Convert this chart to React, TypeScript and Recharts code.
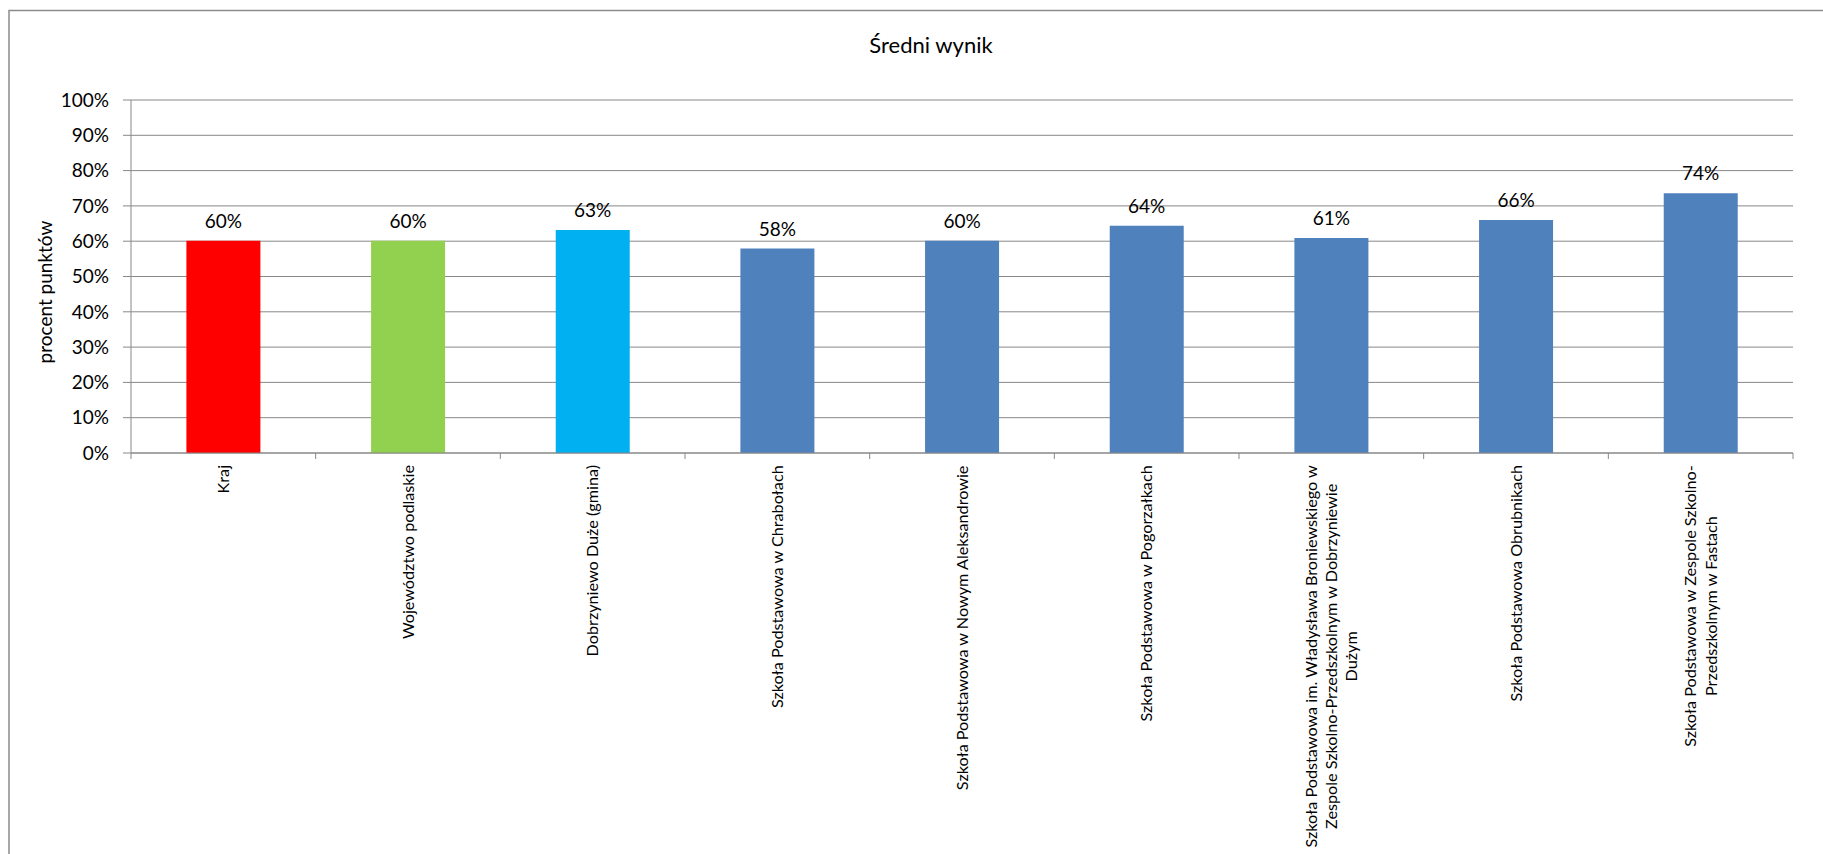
import React from 'react';
import { BarChart, Bar, XAxis, YAxis, CartesianGrid, Cell, LabelList } from 'recharts';

const labelLines: string[][] = [
  ['Kraj'],
  ['Województwo podlaskie'],
  ['Dobrzyniewo Duże (gmina)'],
  ['Szkoła Podstawowa w Chrabołach'],
  ['Szkoła Podstawowa w Nowym Aleksandrowie'],
  ['Szkoła Podstawowa w Pogorzałkach'],
  ['Szkoła Podstawowa im. Władysława Broniewskiego w', 'Zespole Szkolno-Przedszkolnym w Dobrzyniewie', 'Dużym'],
  ['Szkoła Podstawowa Obrubnikach'],
  ['Szkoła Podstawowa w Zespole Szkolno-', 'Przedszkolnym w Fastach'],
];
const categories = labelLines.map((l) => l.join(' '));
const values = [60.1, 60.1, 63.2, 57.9, 60.1, 64.4, 60.9, 66.0, 73.6];
const barColors = ['#FF0000', '#92D050', '#00B0F0', '#4F81BD', '#4F81BD', '#4F81BD', '#4F81BD', '#4F81BD', '#4F81BD'];
const yTicks = [0, 10, 20, 30, 40, 50, 60, 70, 80, 90, 100];
const title = 'Średni wynik';
const yTitle = 'procent punktów';

const data = categories.map((name, i) => ({ name, value: values[i] }));

const W = 1823;
const H = 854;
const FONT = 'Lato, "Open Sans", sans-serif';
const AXIS = '#888888';
const LEFT = 131;
const RIGHT = 30;
const TOP = 100;
const XAXIS_H = 401;
const BAND = (W - LEFT - RIGHT) / categories.length;
const X_FONT = 16.2;
const LINE_H = 20.5;

let ctx: CanvasRenderingContext2D | null = null;
function measure(s: string, font: string) {
  if (!ctx) ctx = document.createElement('canvas').getContext('2d');
  if (!ctx) return s.length * 8;
  ctx.font = font;
  return ctx.measureText(s).width;
}

const XTick = (props: any) => {
  const { x, y, index } = props;
  const lines = labelLines[index] || [];
  const maxLen = Math.max(...lines.map((l) => measure(l, `${X_FONT}px Lato`)));
  const top = y + 12;
  return (
    <g>
      <line x1={x - BAND / 2} x2={x - BAND / 2} y1={y} y2={y + 6} stroke={AXIS} />
      {index === categories.length - 1 && (
        <line x1={x + BAND / 2} x2={x + BAND / 2} y1={y} y2={y + 6} stroke={AXIS} />
      )}
      <g transform={`translate(${x}, ${top}) rotate(-90)`}>
        {lines.map((l, i) => (
          <text
            key={i}
            x={-maxLen / 2}
            y={(i - (lines.length - 1) / 2) * LINE_H}
            dy="0.35em"
            textAnchor="middle"
            fontFamily={FONT}
            fontSize={X_FONT}
            fill="#000"
          >
            {l}
          </text>
        ))}
      </g>
    </g>
  );
};

export default function App() {
  return (
    <div style={{ position: 'absolute', left: 0, top: 0, width: W, height: H, overflow: 'hidden', background: '#fff' }}>
      <BarChart
        width={W}
        height={H}
        data={data}
        margin={{ top: TOP, right: RIGHT, bottom: 0, left: 0 }}
        barCategoryGap="30%"
      >
        <CartesianGrid vertical={false} stroke={AXIS} />
        <XAxis
          dataKey="name"
          height={XAXIS_H}
          interval={0}
          tickLine={false}
          tickSize={0}
          tickMargin={0}
          axisLine={{ stroke: AXIS }}
          tick={<XTick />}
        />
        <YAxis
          width={LEFT}
          domain={[0, 100]}
          ticks={yTicks}
          interval={0}
          tickFormatter={(v: number) => `${v}%`}
          tickSize={8}
          tickMargin={14}
          axisLine={{ stroke: AXIS }}
          tickLine={{ stroke: AXIS }}
          tick={{ fill: '#000', fontSize: 19, fontFamily: FONT }}
        />
        <Bar dataKey="value" isAnimationActive={false}>
          {data.map((_, i) => (
            <Cell key={`c-${i}`} fill={barColors[i]} />
          ))}
          <LabelList
            dataKey="value"
            position="top"
            offset={13}
            formatter={(v: any) => `${Math.round(Number(v))}%`}
            fill="#000"
            style={{ fontFamily: FONT, fontSize: 19, fill: '#000' }}
          />
        </Bar>
      </BarChart>
      <svg width={W} height={H} style={{ position: 'absolute', left: 0, top: 0, pointerEvents: 'none' }}>
        <rect x={9} y={10.5} width={W + 20} height={H + 20} fill="none" stroke="#8c8c8c" strokeWidth={1.5} />
        <text x={931} y={53} textAnchor="middle" fontFamily={FONT} fontSize={22} fill="#000">
          {title}
        </text>
        <text transform="translate(52, 292) rotate(-90)" textAnchor="middle" fontFamily={FONT} fontSize={19} fill="#000">
          {yTitle}
        </text>
      </svg>
    </div>
  );
}
